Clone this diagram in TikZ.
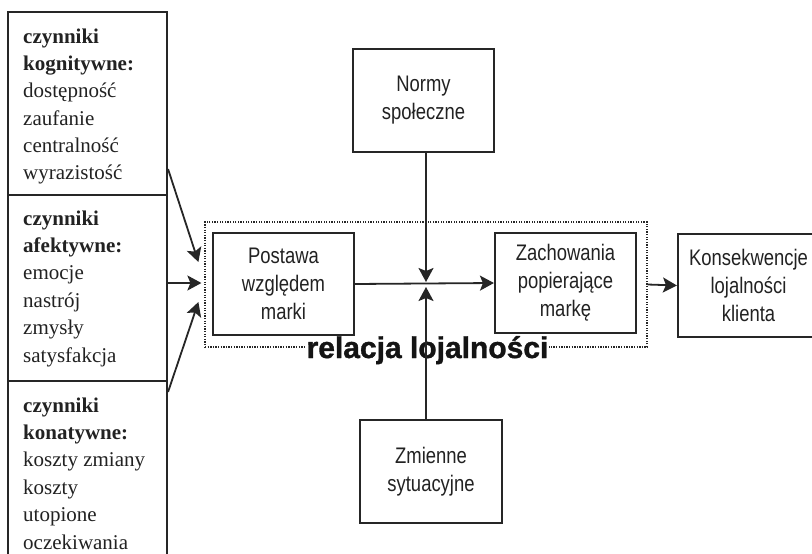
\documentclass[tikz,border=0pt]{standalone}
\usepackage{fontspec}
\setmainfont{Liberation Serif}
\newfontfamily\narrowsf[FakeStretch=0.82]{Liberation Sans}
\newfontfamily\boldsf[FakeBold=1.2]{Liberation Sans}
\usetikzlibrary{arrows.meta,calc}
\definecolor{linec}{HTML}{262626}
\definecolor{textc}{HTML}{222222}
\newcommand{\ftext}[1]{\vtop{\fontsize{21}{27.4}\selectfont #1}}
\tikzset{
  mbox/.style={draw=linec, line width=2.1pt, rectangle, minimum width=141pt,
    minimum height=102pt, inner sep=0pt, align=center, text=textc,
    font=\narrowsf\fontsize{22.5}{28}\selectfont},
  lbox/.style={draw=linec, line width=2.1pt, rectangle, minimum width=159pt, inner sep=0pt},
  ltext/.style={anchor=base west, inner sep=0pt, text=textc},
  conn/.style={draw=linec, line width=1.8pt},
  tipped/.style={conn, -{Stealth[length=14pt,width=15pt,inset=3pt]}},
  dotbox/.style={draw=linec, line width=1.2pt, dash pattern=on 1.3pt off 1.3pt,
    rectangle, minimum width=442pt, minimum height=125pt, inner sep=0pt}
}
\begin{document}
\begin{tikzpicture}[x=1pt,y=-1pt]
\useasboundingbox[fill=white] (0,0) rectangle (812,554);
% dotted relation frame
\node[dotbox] (rel) at (426,284.5) {};
\node[fill=white, inner sep=1pt, anchor=base, text=black!92,
  font=\boldsf\bfseries\fontsize{30}{30}\selectfont] (reltext) at (427.5,358) {relacja lojalności};
% left boxes
\node[lbox, minimum height=183pt] (kog) at (87.5,103.5) {};
\node[lbox, minimum height=186pt] (afe) at (87.5,288) {};
\node[lbox, minimum height=189pt] (kon) at (87.5,475.5) {};
\node[ltext] (kogt) at (23,43) {\ftext{\hbox{\bfseries czynniki}\hbox{\bfseries kognitywne:}\hbox{dostępność}\hbox{zaufanie}\hbox{centralność}\hbox{wyrazistość}}};
\node[ltext] (afet) at (23,225) {\ftext{\hbox{\bfseries czynniki}\hbox{\bfseries afektywne:}\hbox{emocje}\hbox{nastrój}\hbox{zmysły}\hbox{satysfakcja}}};
\node[ltext] (kont) at (23,412) {\ftext{\hbox{\bfseries czynniki}\hbox{\bfseries konatywne:}\hbox{koszty zmiany}\hbox{koszty}\hbox{utopione}\hbox{oczekiwania}}};
% main boxes
\node[mbox, minimum height=102pt] (post) at (283.5,284) {Postawa\\względem\\marki};
\node[mbox, minimum height=100pt] (zach) at (565.5,283) {Zachowania\\popierające\\markę};
\node[mbox, minimum height=103pt] (kons) at (748.5,285.5) {Konsekwencje\\lojalności\\klienta};
\node[mbox, minimum height=103pt] (norm) at (423.5,100.5) {Normy\\społeczne};
\node[mbox, minimum height=103pt, minimum width=142pt] (zmie) at (431,471.5) {Zmienne\\sytuacyjne};
% coordinates
\coordinate (j) at (426,284);
\coordinate (s1) at ($(kog.south east)+(0,-27)$);
\coordinate (s2) at (167,283);
\coordinate (s3) at ($(kon.north east)+(0,12)$);
\coordinate (t1) at ($(rel.west)+(-6,-22.5)$);
\coordinate (t2) at ($(rel.west)+(-3,-1.5)$);
\coordinate (t3) at ($(rel.west)+(-6,17.5)$);
% connectors
\draw[tipped] (s1) -- (t1);
\draw[tipped] (s2) -- (t2);
\draw[tipped] (s3) -- (t3);
\draw[tipped] (post.east) -- (zach.west);
\draw[tipped] (norm.south -| j) -- ($(j)+(0,-2)$);
\draw[tipped] (zmie.north -| j) -- ($(j)+(0,3)$);
\draw[tipped] (rel.east) -- (kons.west);
\end{tikzpicture}
\end{document}
